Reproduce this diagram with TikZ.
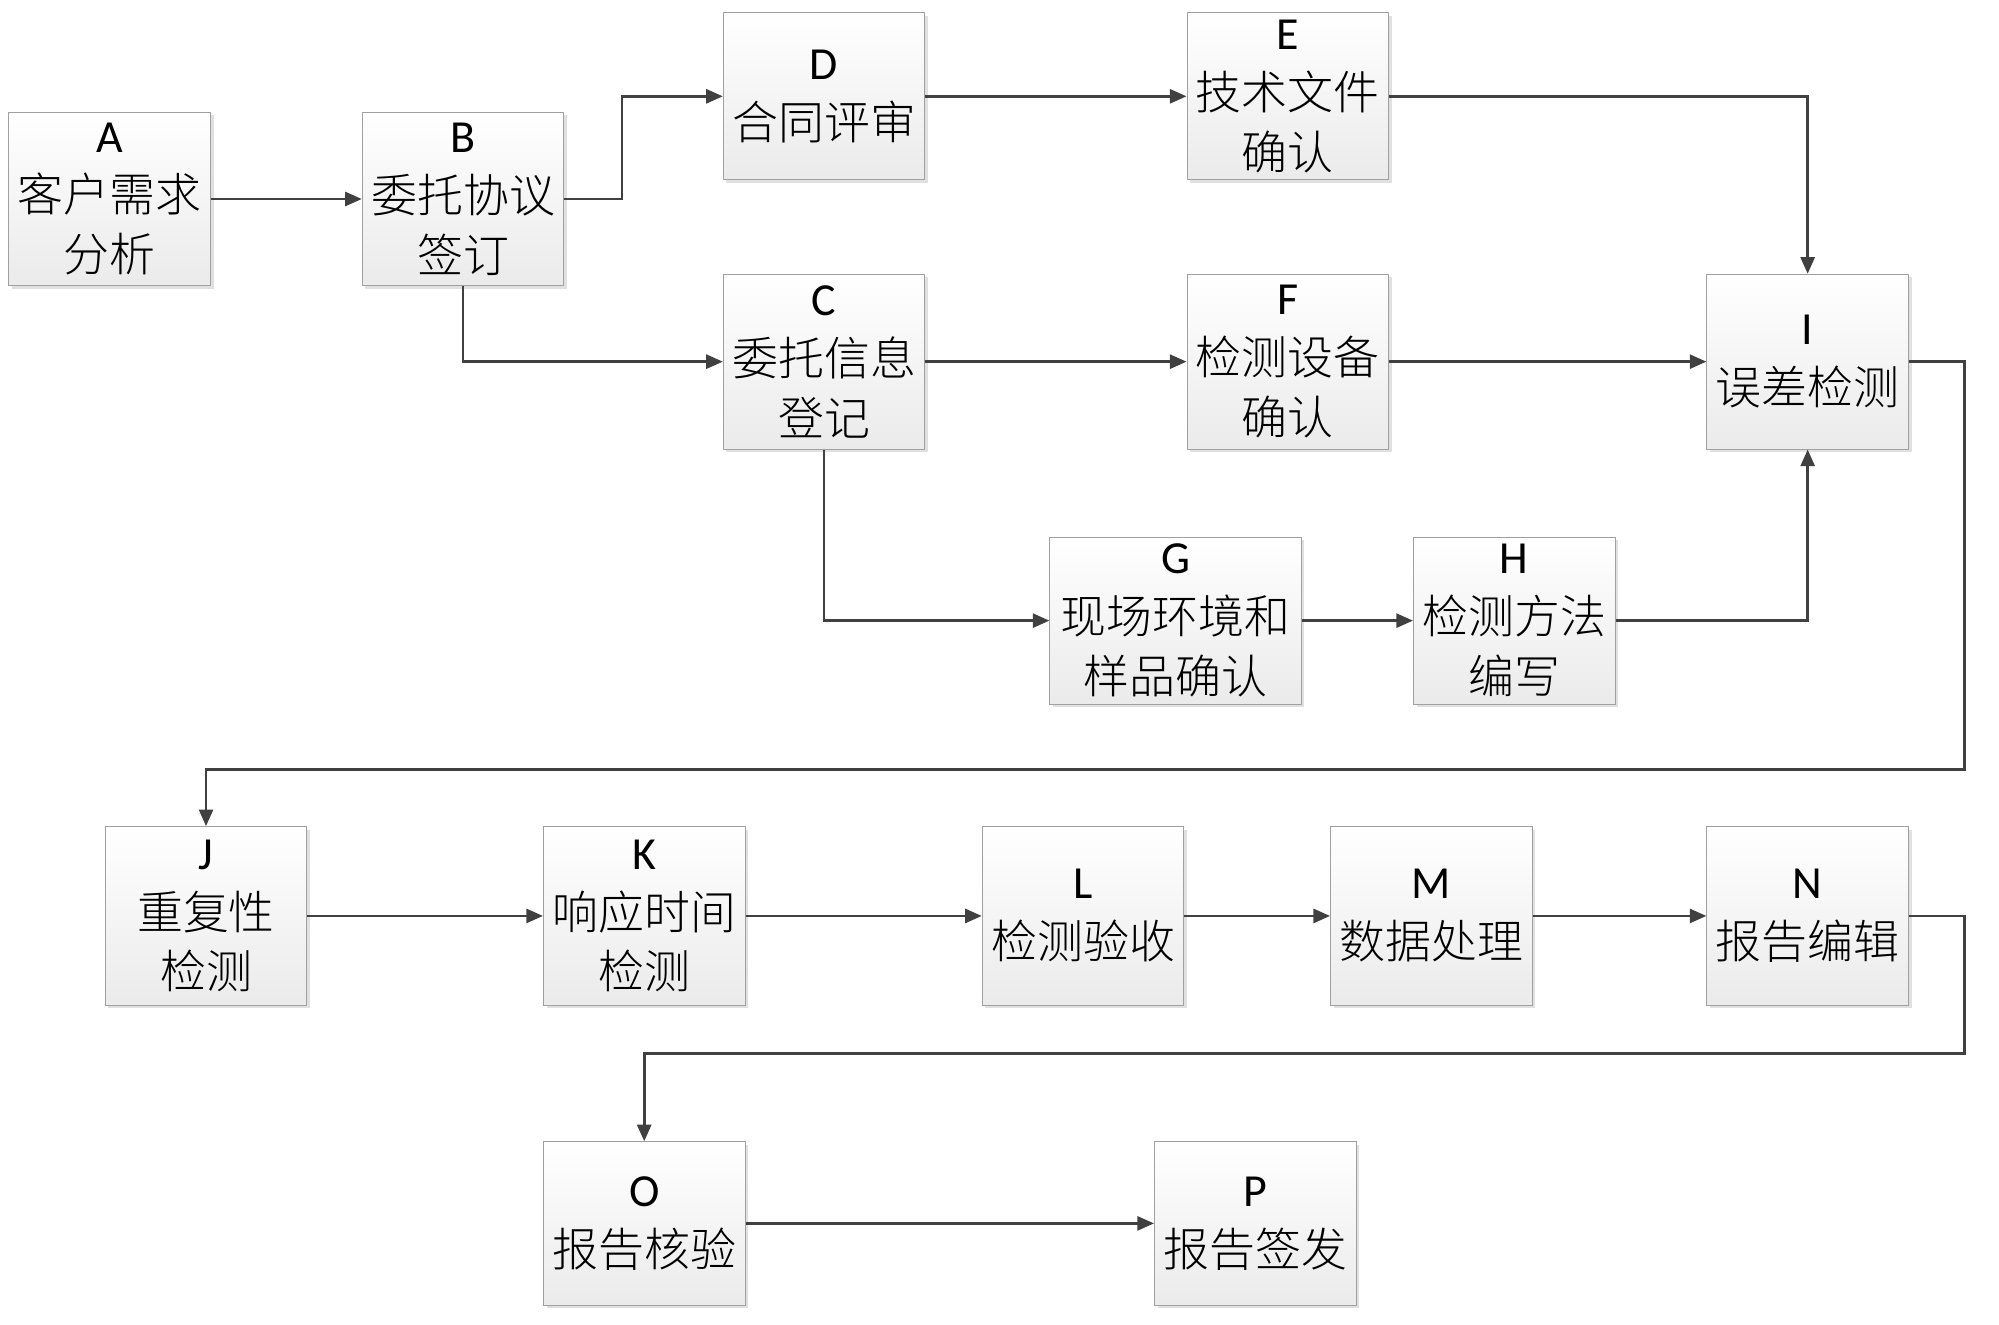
\documentclass[tikz,border=0pt]{standalone}
\usepackage{fontspec}
\setmainfont{Carlito}
\newfontfamily\cjk{Noto Sans CJK SC}[UprightFont = * Light]
\usepackage{tikz}
\usetikzlibrary{arrows.meta,positioning,shapes,shadows}
\definecolor{linecol}{HTML}{404040}
\definecolor{boxline}{HTML}{A0A0A0}

\begin{document}
\begin{tikzpicture}[x = 0.5pt, y = -0.5pt,
  box/.style = {draw = boxline, top color = white, bottom color = gray!16,
    minimum width = 79pt, minimum height = 68pt, inner sep = 0pt,
    align = center, font = \fontsize{18}{23.5}\selectfont,
    drop shadow = {shadow xshift = 1.2pt, shadow yshift = -1.2pt, fill = black!20, opacity = 0.6}},
  arr/.style = {-{Triangle[length = 6.5pt, width = 5.5pt]}, draw = linecol, line width = 1pt}]
\useasboundingbox (0,0) rectangle (1567,1038);
% first part
\node[box] (a) at (86,156) {A\\\cjk 客户需求\\\cjk 分析};
\node[box] (b) at (363,156) {B\\\cjk 委托协议\\\cjk 签订};
\node[box, minimum height = 65.5pt] (d) at (646,75.5) {D\\\cjk 合同评审};
\node[box, minimum height = 65.5pt] (e) at (1009.5,75.5) {E\\\cjk 技术文件\\\cjk 确认};
\node[box, minimum height = 68.5pt] (c) at (646,283.5) {C\\\cjk 委托信息\\\cjk 登记};
\node[box, minimum height = 68.5pt] (f) at (1009.5,283.5) {F\\\cjk 检测设备\\\cjk 确认};
\node[box, minimum height = 68.5pt] (i) at (1417,283.5) {I\\\cjk 误差检测};
\node[box, minimum width = 98.5pt, minimum height = 65.5pt] (g) at (921.5,486.5) {G\\\cjk 现场环境和\\\cjk 样品确认};
\node[box, minimum height = 65.5pt] (h) at (1187,486.5) {H\\\cjk 检测方法\\\cjk 编写};
% second part
\node[box, minimum height = 70pt] (j) at (161.5,718) {J\\\cjk 重复性\\\cjk 检测};
\node[box, minimum height = 70pt] (k) at (505,718) {K\\\cjk 响应时间\\\cjk 检测};
\node[box, minimum height = 70pt] (l) at (849,718) {L\\\cjk 检测验收};
\node[box, minimum height = 70pt] (m) at (1122,718) {M\\\cjk 数据处理};
\node[box, minimum height = 70pt] (n) at (1417,718) {N\\\cjk 报告编辑};
\node[box, minimum height = 64pt] (o) at (505,959) {O\\\cjk 报告核验};
\node[box, minimum height = 64pt] (p) at (984,959) {P\\\cjk 报告签发};
\coordinate (r1) at (1540,603);
\coordinate (r2) at (1540,826);
% connectors
\draw[arr] (a) -- (b);
\draw[arr] (b.east) -- ++(45,0) |- (d.west);
\draw[arr] (b.south) |- (c.west);
\draw[arr] (d) -- (e);
\draw[arr] (e.east) -| (i.north);
\draw[arr] (c) -- (f);
\draw[arr] (f) -- (i);
\draw[arr] (c.south) |- (g.west);
\draw[arr] (g) -- (h);
\draw[arr] (h.east) -| (i.south);
\draw[arr] (i.east) -| (r1) -| (j.north);
\draw[arr] (j) -- (k);
\draw[arr] (k) -- (l);
\draw[arr] (l) -- (m);
\draw[arr] (m) -- (n);
\draw[arr] (n.east) -| (r2) -| (o.north);
\draw[arr] (o) -- (p);
\end{tikzpicture}
\end{document}
